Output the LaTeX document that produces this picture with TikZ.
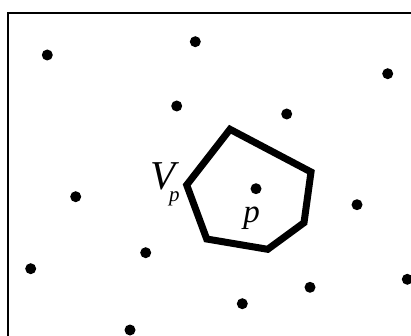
\documentclass[tikz,border=0pt]{standalone}
\usepackage{fontspec}
\setmainfont{Liberation Serif}

\begin{document}
\begin{tikzpicture}[x=1pt, y=-1pt,
    site/.style={circle, inner sep=0pt, minimum size=11pt, fill=black, draw=none},
    cell/.style={line width=7pt, line join=miter},
    lbl/.style={inner sep=0pt}]
			\useasboundingbox (0,0) rectangle (411,336);
			\clip (0,0) rectangle (411,336);
			\draw[line width=2pt] (7.5,345) -- (7.5,13) -- (420,13);
			% sites
			\node[site](s1) at (47.3,55){};
			\node[site](s2) at (195.3,41.7){};
			\node[site](s3) at (387.7,73.7){};
			\node[site](s4) at (176.7,106){};
			\node[site](s5) at (286.7,114){};
			\node[site](s6) at (75.7,196.7){};
			\node[site](p) at (256,188.7){};
			\node[site](s8) at (357,204.7){};
			\node[site](s9) at (145.7,252.7){};
			\node[site](s10) at (30.7,268.7){};
			\node[site](s11) at (310,287.3){};
			\node[site](s12) at (407.3,279.3){};
			\node[site](s13) at (242.3,303.7){};
			\node[site](s14) at (130,330){};
			% cell of p
			\coordinate (v1) at (230,129.3);
			\coordinate (v2) at (311,172);
			\coordinate (v3) at (304,222.7);
			\coordinate (v4) at (267.7,249.3);
			\coordinate (v5) at (206.7,239);
			\coordinate (v6) at (186.7,185);
			\draw[cell] (v1) -- (v2) -- (v3) -- (v4) -- (v5) -- (v6) -- cycle;
			\node[lbl, anchor=base west](vp) at (150,190){\fontsize{41}{41}\selectfont\itshape V\kern-6pt\raisebox{-11.4pt}{\fontsize{21}{21}\selectfont p}};
			\node[lbl, anchor=base](plbl) at (251.5,222.5){\fontsize{33}{33}\selectfont\itshape p};
\end{tikzpicture}
\end{document}
